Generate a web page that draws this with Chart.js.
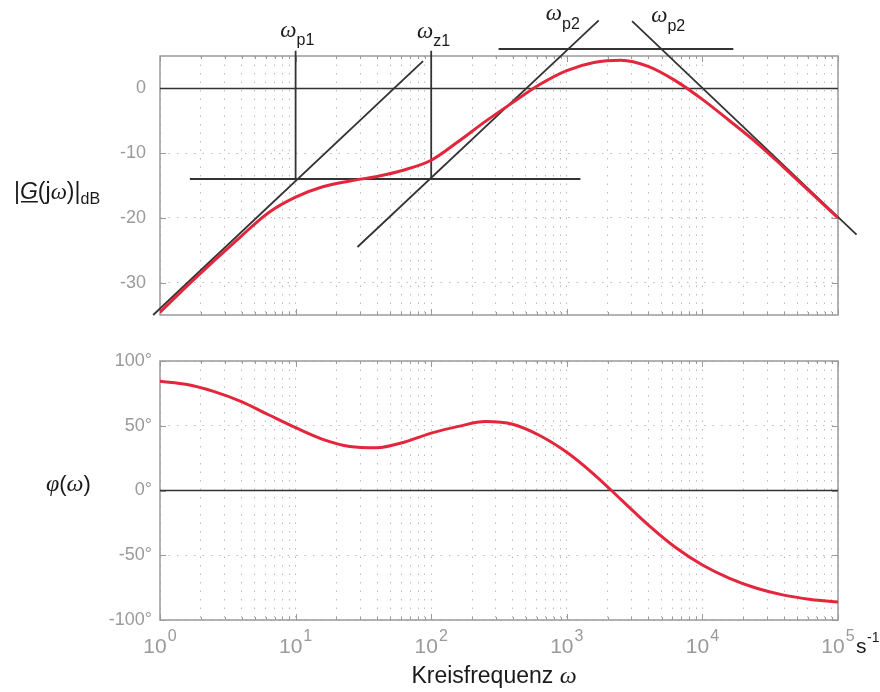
<!DOCTYPE html>
<html>
<head>
<meta charset="utf-8">
<script src="https://cdn.jsdelivr.net/npm/chart.js@4.4.0/dist/chart.umd.min.js"></script>
<style>
  html, body { margin: 0; padding: 0; background: #fff; }
  #wrap { position: relative; width: 880px; height: 692px; }
  #magChart { position: absolute; left: 0; top: 0; }
  #phaseChart { position: absolute; left: 0; top: 340px; }
</style>
</head>
<body>
<div id="wrap">
  <canvas id="magChart" width="880" height="340"></canvas>
  <canvas id="phaseChart" width="880" height="352"></canvas>
</div>
<script>
// sample frequencies (s^-1), 5 per decade
const freq = [1, 1.585, 2.512, 3.981, 6.31, 10, 15.85, 25.12, 39.81, 63.1,
  100, 158.5, 251.2, 398.1, 631, 1000, 1585, 2512, 3981, 6310,
  10000, 15850, 25120, 39810, 63100, 100000];

// |G(jw)| in dB
const magDb = [-34.6, -30.5, -26.6, -22.8, -19.2, -16.8, -15.2, -14.3, -13.6, -12.6,
  -11.1, -8.2, -5.1, -2.2, 0.6, 2.75, 4.0, 4.35, 3.4, 1.2,
  -1.7, -5.0, -8.4, -12.2, -16.1, -20.0];

// phase in degrees
const phaseDeg = [84.3, 81.8, 76.3, 68.6, 58.5, 48.5, 39.5, 34.0, 33.0, 37.3,
  44.3, 49.5, 53.2, 51.2, 42.5, 29.5, 12.5, -7.0, -26.5, -43.8,
  -57.5, -67.8, -75.5, -80.8, -84.1, -86.2];

// asymptotes / construction lines [freq, dB]
const asymLow = [[0.89, -35], [87, 4.2]];
const asymFlat = [[1.66, -14], [1260, -14]];
const asymZero = [[28.6, -24.5], [1720, 10.5]];
const asymPeak = [[314, 6.1], [16900, 6.1]];
const asymHigh = [[3030, 10.4], [137000, -22.6]];
const markP1 = [[10, 5.8], [10, -14]];
const markZ1 = [[100, 5.8], [100, -14]];
const zeroLine = [[1, 0], [100000, 0]];

const magTicks = [-30, -20, -10, 0];
const phaseTicks = [-100, -50, 0, 50, 100];
const decades = [0, 1, 2, 3, 4, 5];

const SANS = '"Liberation Sans", Arial, Helvetica, sans-serif';
const SERIF = '"Liberation Serif", "Times New Roman", serif';
const RED = '#e3263b';
const INK = '#333333';
const GRID = '#bcbcbc';

const pts = arr => arr.map(p => ({ x: p[0], y: p[1] }));
const curve = (xs, ys) => xs.map((x, i) => ({ x: x, y: ys[i] }));

function blackLine(arr, width) {
  return { data: pts(arr), borderColor: INK, borderWidth: width || 1.8, pointRadius: 0, clip: false, order: 2 };
}

function logX() {
  return {
    type: 'logarithmic', min: 1, max: 100000,
    afterBuildTicks: s => {
      const t = [];
      for (let e = 0; e < 5; e++) for (let m = 1; m < 10; m++) t.push({ value: m * Math.pow(10, e) });
      t.push({ value: 100000 });
      s.ticks = t;
    },
    ticks: { display: false },
    grid: { color: GRID, lineWidth: 1, drawTicks: false },
    border: { display: false, dash: [1.5, 7] }
  };
}

function linY(min, max, tickVals, suffix) {
  return {
    min: min, max: max,
    afterBuildTicks: s => { s.ticks = tickVals.map(v => ({ value: v })); },
    afterFit: s => { s.width = 160; },
    ticks: {
      color: '#9a9a9a', padding: suffix ? 8 : 14,
      font: { family: SANS, size: 18 },
      callback: v => String(v) + suffix
    },
    grid: { color: GRID, lineWidth: 1, drawTicks: false },
    border: { display: false, dash: [1.5, 7] }
  };
}

function isDecade(v) {
  const m = v / Math.pow(10, Math.round(Math.log10(v)));
  return Math.abs(m - 1) < 1e-9;
}

// gray box round the plot area with short inward tick marks
const framePlugin = {
  id: 'frame',
  beforeDatasetsDraw(chart) {
    const { ctx, chartArea: a, scales } = chart;
    ctx.save();
    ctx.strokeStyle = '#9a9a9a';
    ctx.lineWidth = 1;
    ctx.beginPath();
    scales.x.ticks.forEach(t => {
      const x = Math.round(scales.x.getPixelForValue(t.value)) + 0.5;
      const len = isDecade(t.value) ? 6 : 3;
      ctx.moveTo(x, a.bottom); ctx.lineTo(x, a.bottom - len);
      ctx.moveTo(x, a.top); ctx.lineTo(x, a.top + len);
    });
    scales.y.ticks.forEach(t => {
      const y = Math.round(scales.y.getPixelForValue(t.value)) + 0.5;
      ctx.moveTo(a.left, y); ctx.lineTo(a.left + 6, y);
      ctx.moveTo(a.right, y); ctx.lineTo(a.right - 6, y);
    });
    ctx.stroke();
    ctx.lineWidth = 1.5;
    ctx.strokeRect(a.left, a.top, a.right - a.left, a.bottom - a.top);
    ctx.restore();
  }
};

// omega with a subscript, e.g. w_p1
function omegaLabel(ctx, xSub, base, sub, subDrop) {
  ctx.font = 'italic 23px ' + SERIF;
  ctx.textAlign = 'right';
  ctx.fillText('\u03c9', xSub, base);
  ctx.font = '16px ' + SANS;
  ctx.textAlign = 'left';
  ctx.fillText(sub, xSub, base + subDrop);
}

const magText = {
  id: 'magText',
  afterDraw(chart) {
    const { ctx, scales } = chart;
    const x = scales.x;
    ctx.save();
    ctx.fillStyle = '#1a1a1a';
    ctx.textBaseline = 'alphabetic';
    omegaLabel(ctx, x.getPixelForValue(10) + 1, 37, 'p1', 8);
    omegaLabel(ctx, x.getPixelForValue(100) + 2, 38, 'z1', 8);
    omegaLabel(ctx, x.getPixelForValue(922), 20, 'p2', 9);
    omegaLabel(ctx, x.getPixelForValue(5520), 22, 'p2', 9);

    // |G(jw)|dB
    let px = 14;
    const base = 199;
    const put = (txt, font, dy) => {
      ctx.font = font;
      ctx.textAlign = 'left';
      ctx.fillText(txt, px, base + (dy || 0));
      const w = ctx.measureText(txt).width;
      px += w;
      return w;
    };
    put('|', '23px ' + SANS);
    const gx = px;
    const gw = put('G', 'italic 23px ' + SANS);
    ctx.fillRect(gx + 1, base + 2, gw - 1, 1.5);
    put('(j', '23px ' + SANS);
    put('\u03c9', 'italic 23px ' + SERIF);
    put(')|', '23px ' + SANS);
    put('dB', '16px ' + SANS, 5);
    ctx.restore();
  }
};

const phaseText = {
  id: 'phaseText',
  afterDraw(chart) {
    const { ctx, scales } = chart;
    const x = scales.x;
    ctx.save();
    ctx.textBaseline = 'alphabetic';
    // decade labels 10^n
    ctx.fillStyle = '#9a9a9a';
    decades.forEach(e => {
      const cx = x.getPixelForValue(Math.pow(10, e));
      ctx.font = '21px ' + SANS;
      const w1 = ctx.measureText('10').width;
      ctx.font = '16px ' + SANS;
      const w2 = ctx.measureText(String(e)).width;
      const left = cx - (w1 + w2 + 1) / 2;
      ctx.font = '21px ' + SANS;
      ctx.textAlign = 'left';
      ctx.fillText('10', left, 313);
      ctx.font = '16px ' + SANS;
      ctx.fillText(String(e), left + w1 + 1, 301);
    });
    ctx.fillStyle = '#1a1a1a';
    // unit
    ctx.font = '21px ' + SANS;
    ctx.textAlign = 'left';
    ctx.fillText('s', 856, 313);
    ctx.font = '14px ' + SANS;
    ctx.fillText('-1', 867, 302);
    // axis title
    ctx.font = '23px ' + SANS;
    const t1 = 'Kreisfrequenz ';
    const w1 = ctx.measureText(t1).width;
    ctx.font = 'italic 24px ' + SERIF;
    const w2 = ctx.measureText('\u03c9').width;
    const start = 494 - (w1 + w2) / 2;
    ctx.font = '23px ' + SANS;
    ctx.fillText(t1, start, 343);
    ctx.font = 'italic 24px ' + SERIF;
    ctx.fillText('\u03c9', start + w1, 343);
    // phi(w)
    let px = 46;
    const put = (txt, font) => {
      ctx.font = font;
      ctx.fillText(txt, px, 151);
      px += ctx.measureText(txt).width;
    };
    put('\u03c6', 'italic 24px ' + SERIF);
    put('(', '22px ' + SANS);
    put('\u03c9', 'italic 24px ' + SERIF);
    put(')', '22px ' + SANS);
    ctx.restore();
  }
};

const common = {
  responsive: false,
  animation: false,
  devicePixelRatio: 1,
  plugins: { legend: { display: false }, tooltip: { enabled: false } },
  elements: { line: { tension: 0 } }
};

new Chart(document.getElementById('magChart'), {
  type: 'line',
  data: {
    datasets: [
      { data: curve(freq, magDb), borderColor: RED, borderWidth: 3, pointRadius: 0,
        cubicInterpolationMode: 'monotone', order: 1 },
      blackLine(zeroLine, 1.5),
      blackLine(asymLow),
      blackLine(asymFlat, 2),
      blackLine(asymZero),
      blackLine(asymPeak, 2),
      blackLine(asymHigh),
      blackLine(markP1),
      blackLine(markZ1)
    ]
  },
  options: Object.assign({}, common, {
    layout: { padding: { top: 56, right: 42, bottom: 25, left: 0 } },
    scales: { x: logX(), y: linY(-35, 5, magTicks, '') }
  }),
  plugins: [framePlugin, magText]
});

new Chart(document.getElementById('phaseChart'), {
  type: 'line',
  data: {
    datasets: [
      { data: curve(freq, phaseDeg), borderColor: RED, borderWidth: 3, pointRadius: 0,
        cubicInterpolationMode: 'monotone', order: 1 },
      blackLine(zeroLine, 1.5)
    ]
  },
  options: Object.assign({}, common, {
    layout: { padding: { top: 21, right: 42, bottom: 72, left: 0 } },
    scales: { x: logX(), y: linY(-100, 100, phaseTicks, '\u00b0') }
  }),
  plugins: [framePlugin, phaseText]
});
</script>
</body>
</html>
